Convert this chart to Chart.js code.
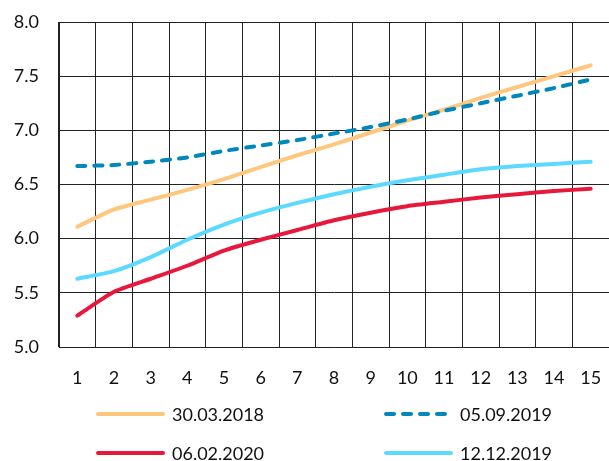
<!DOCTYPE html>
<html lang="en">
<head>
    <meta charset="UTF-8">
    <title>Yield curves</title>
    <script src="https://cdn.jsdelivr.net/npm/chart.js"></script>
    <style>
        html, body { margin: 0; padding: 0; background: #fff; }
        #wrap { width: 609px; height: 461px; }
    </style>
</head>
<body>
    <div id="wrap"><canvas id="curveChart"></canvas></div>
    <script>
        // Terms on the x axis
        const terms = ['1', '2', '3', '4', '5', '6', '7', '8', '9', '10', '11', '12', '13', '14', '15'];

        // Values
        const curve2018 = [6.11, 6.27, 6.36, 6.45, 6.55, 6.66, 6.77, 6.87, 6.98, 7.09, 7.19, 7.30, 7.40, 7.50, 7.60];
        const curveSep2019 = [6.67, 6.68, 6.71, 6.75, 6.81, 6.86, 6.91, 6.97, 7.03, 7.10, 7.18, 7.25, 7.32, 7.39, 7.47];
        const curveFeb2020 = [5.29, 5.51, 5.63, 5.75, 5.89, 5.99, 6.08, 6.17, 6.24, 6.30, 6.34, 6.38, 6.41, 6.44, 6.46];
        const curveDec2019 = [5.63, 5.70, 5.83, 5.99, 6.13, 6.24, 6.33, 6.41, 6.48, 6.54, 6.59, 6.64, 6.67, 6.69, 6.71];

        const seriesNames = ['30.03.2018', '05.09.2019', '06.02.2020', '12.12.2019'];
        const yTicks = [5.0, 5.5, 6.0, 6.5, 7.0, 7.5, 8.0];

        const fontFamily = 'Lato, Roboto, "Noto Sans", sans-serif';
        const gridColor = '#222';

        // legend drawn under the axis, two columns
        const gridLegend = {
            id: 'gridLegend',
            afterDraw(chart) {
                const ctx = chart.ctx;
                const cols = [96, 384];
                const rows = [414, 453];
                ctx.save();
                ctx.font = '18px ' + fontFamily;
                ctx.textBaseline = 'middle';
                ctx.fillStyle = '#111';
                chart.data.datasets.forEach((ds, i) => {
                    const x = cols[i % 2];
                    const y = rows[Math.floor(i / 2)];
                    ctx.beginPath();
                    ctx.strokeStyle = ds.borderColor;
                    ctx.lineWidth = ds.borderWidth;
                    ctx.lineCap = 'round';
                    ctx.setLineDash(ds.borderDash || []);
                    ctx.moveTo(x + 2, y);
                    ctx.lineTo(x + 67, y);
                    ctx.stroke();
                    ctx.setLineDash([]);
                    ctx.fillText(ds.label, x + 76, y + 1);
                });
                ctx.restore();
            }
        };

        const ctx = document.getElementById('curveChart').getContext('2d');
        new Chart(ctx, {
            type: 'line',
            data: {
                labels: terms,
                datasets: [
                    {
                        label: seriesNames[0],
                        data: curve2018,
                        borderColor: '#FFC67E',
                        borderWidth: 4,
                        pointRadius: 0,
                        tension: 0.2,
                        borderCapStyle: 'round'
                    },
                    {
                        label: seriesNames[1],
                        data: curveSep2019,
                        borderColor: '#0088BD',
                        borderWidth: 4,
                        borderDash: [8, 9],
                        borderCapStyle: 'round',
                        pointRadius: 0,
                        tension: 0.2,
                        order: -1
                    },
                    {
                        label: seriesNames[2],
                        data: curveFeb2020,
                        borderColor: '#E8173C',
                        borderWidth: 4,
                        pointRadius: 0,
                        tension: 0.2,
                        borderCapStyle: 'round'
                    },
                    {
                        label: seriesNames[3],
                        data: curveDec2019,
                        borderColor: '#5CD9FF',
                        borderWidth: 4,
                        pointRadius: 0,
                        tension: 0.2,
                        borderCapStyle: 'round'
                    }
                ]
            },
            options: {
                responsive: true,
                maintainAspectRatio: false,
                animation: false,
                layout: {
                    padding: { top: 22, right: 0, bottom: 64, left: 0 }
                },
                plugins: {
                    legend: { display: false },
                    tooltip: { enabled: false }
                },
                scales: {
                    x: {
                        offset: true,
                        grid: {
                            offset: true, color: gridColor, lineWidth: 1,
                            drawTicks: true, tickLength: 20, tickColor: 'rgba(0,0,0,0)'
                        },
                        border: { color: gridColor, width: 1 },
                        ticks: {
                            padding: 0,
                            color: '#111',
                            font: { family: fontFamily, size: 18 },
                            maxRotation: 0,
                            autoSkip: false
                        },
                        afterFit(scale) { scale.height = 50; }
                    },
                    y: {
                        min: 5,
                        max: 8,
                        afterBuildTicks(scale) {
                            scale.ticks = yTicks.map(v => ({ value: v }));
                        },
                        grid: {
                            color: gridColor, lineWidth: 1,
                            drawTicks: true, tickLength: 20, tickColor: 'rgba(0,0,0,0)'
                        },
                        border: { color: gridColor, width: 1 },
                        ticks: {
                            padding: 0,
                            color: '#111',
                            font: { family: fontFamily, size: 18 },
                            callback: v => Number(v).toFixed(1)
                        },
                        afterFit(scale) { scale.width = 59; }
                    }
                }
            },
            plugins: [gridLegend]
        });
    </script>
</body>
</html>
